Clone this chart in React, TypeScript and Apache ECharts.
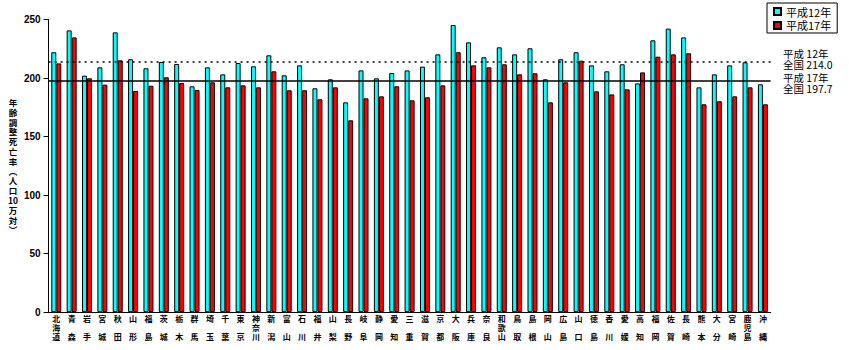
import React, { useEffect, useRef } from "react";
import * as echarts from "echarts";

const prefectures = [
  "北海道", "青森", "岩手", "宮城", "秋田", "山形", "福島", "茨城", "栃木", "群馬",
  "埼玉", "千葉", "東京", "神奈川", "新潟", "富山", "石川", "福井", "山梨", "長野",
  "岐阜", "静岡", "愛知", "三重", "滋賀", "京都", "大阪", "兵庫", "奈良", "和歌山",
  "鳥取", "島根", "岡山", "広島", "山口", "徳島", "香川", "愛媛", "高知", "福岡",
  "佐賀", "長崎", "熊本", "大分", "宮崎", "鹿児島", "沖縄",
];

const h12 = [
  222.0, 240.7, 202.0, 209.1, 239.0, 216.0, 208.3, 213.7, 212.0, 192.9,
  209.1, 203.1, 212.8, 210.0, 219.4, 202.3, 210.8, 191.2, 198.9, 179.2,
  206.5, 199.7, 204.3, 206.5, 209.7, 220.2, 245.3, 230.5, 217.7, 226.2,
  220.2, 225.4, 198.9, 216.0, 222.0, 210.8, 205.7, 211.7, 195.4, 232.2,
  242.2, 234.7, 192.0, 203.1, 210.8, 213.4, 194.6,
];

const h17 = [
  212.5, 234.7, 199.7, 194.3, 215.1, 188.9, 193.4, 200.6, 195.7, 189.7,
  196.3, 192.0, 193.7, 192.0, 205.7, 189.5, 189.5, 181.8, 192.0, 163.8,
  182.6, 184.3, 192.9, 180.9, 183.5, 193.7, 222.0, 210.8, 209.1, 211.7,
  203.1, 204.0, 179.2, 196.3, 214.8, 188.6, 186.0, 190.3, 204.8, 218.2,
  220.2, 221.1, 177.5, 180.1, 184.3, 192.0, 177.5,
];

const seriesNames = ["平成12年", "平成17年"];
const nationalAvg = [214.0, 197.7];
const yTicks = { min: 0, max: 250, interval: 50 };
const yAxisTitle = ["年", "齢", "調", "整", "死", "亡", "率", "︵", "人", "口", "10", "万", "対", "︶"];

const FONT = "'Noto Sans CJK JP', 'DejaVu Sans', sans-serif";

function verticalName(name: string): string {
  const chars = Array.from(name);
  if (chars.length === 2) return chars[0] + "\n\n" + chars[1];
  return chars.join("\n");
}

export default function App() {
  const ref = useRef<HTMLDivElement>(null);
  useEffect(() => {
    if (!ref.current) return;
    const chart = echarts.init(ref.current, undefined, { renderer: "svg" });
    const titleTexts = yAxisTitle.map((ch, i) => ({
      type: "text",
      x: 13,
      y: 102 + i * 9.8,
      style: {
        text: ch,
        fontSize: 8.5,
        fontWeight: "bold",
        fontFamily: FONT,
        fill: "#000",
        align: "center",
        verticalAlign: "middle",
      },
    }));
    const rightLabels = [
      { text: "平成 12年", y: 53 },
      { text: "全国 " + nationalAvg[0].toFixed(1), y: 64 },
      { text: "平成 17年", y: 77 },
      { text: "全国 " + nationalAvg[1].toFixed(1), y: 88 },
    ].map((l) => ({
      type: "text",
      x: 783,
      y: l.y,
      style: {
        text: l.text,
        fontSize: 10.5,
        fontFamily: FONT,
        fill: "#000",
        align: "left",
        verticalAlign: "middle",
      },
    }));
    const option: any = {
      animation: false,
      backgroundColor: "#ffffff",
      textStyle: { fontFamily: FONT, color: "#000" },
      grid: { left: 48.6, right: 78.4, top: 19.5, bottom: 38 },
      legend: {
        orient: "vertical",
        left: 767,
        top: 3,
        borderColor: "#000",
        borderWidth: 1,
        padding: [3, 6, 2, 6],
        itemWidth: 7,
        itemHeight: 7,
        itemGap: 3,
        icon: "rect",
        textStyle: { fontFamily: FONT, fontSize: 11, color: "#000" },
        data: seriesNames,
      },
      xAxis: {
        type: "category",
        data: prefectures,
        axisLine: { lineStyle: { color: "#000", width: 1 } },
        axisTick: { show: false },
        axisLabel: {
          interval: 0,
          margin: 2,
          fontSize: 8,
          lineHeight: 9,
          color: "#000",
          fontWeight: "bold",
          fontFamily: FONT,
          formatter: (v: string) => verticalName(v),
        },
      },
      yAxis: {
        type: "value",
        min: yTicks.min,
        max: yTicks.max,
        interval: yTicks.interval,
        splitLine: { show: false },
        axisLine: { show: true, lineStyle: { color: "#000", width: 1 } },
        axisTick: { show: true, length: 5, lineStyle: { color: "#000" } },
        axisLabel: {
          margin: 8,
          fontSize: 10,
          fontWeight: "bold",
          color: "#000",
          fontFamily: "'Liberation Sans', Arial, sans-serif",
        },
      },
      series: [
        {
          name: seriesNames[0],
          type: "bar",
          data: h12,
          barWidth: 5,
          barGap: "0%",
          itemStyle: { color: "#00FFFF", borderColor: "#000", borderWidth: 1 },
          markLine: {
            silent: true,
            symbol: "none",
            label: { show: false },
            lineStyle: { color: "#000", width: 1.5, type: [2, 4] },
            data: [{ yAxis: nationalAvg[0] }],
          },
        },
        {
          name: seriesNames[1],
          type: "bar",
          data: h17,
          barWidth: 5,
          barGap: "0%",
          itemStyle: { color: "#FF0000", borderColor: "#000", borderWidth: 1 },
          markLine: {
            silent: true,
            symbol: "none",
            label: { show: false },
            lineStyle: { color: "#000", width: 1.5, type: "solid" },
            data: [{ yAxis: nationalAvg[1] }],
          },
        },
      ],
      graphic: [...titleTexts, ...rightLabels],
    };
    chart.setOption(option);
    return () => chart.dispose();
  }, []);
  return <div ref={ref} style={{ width: 849, height: 350, position: "absolute", left: 0, top: 0 }} />;
}
